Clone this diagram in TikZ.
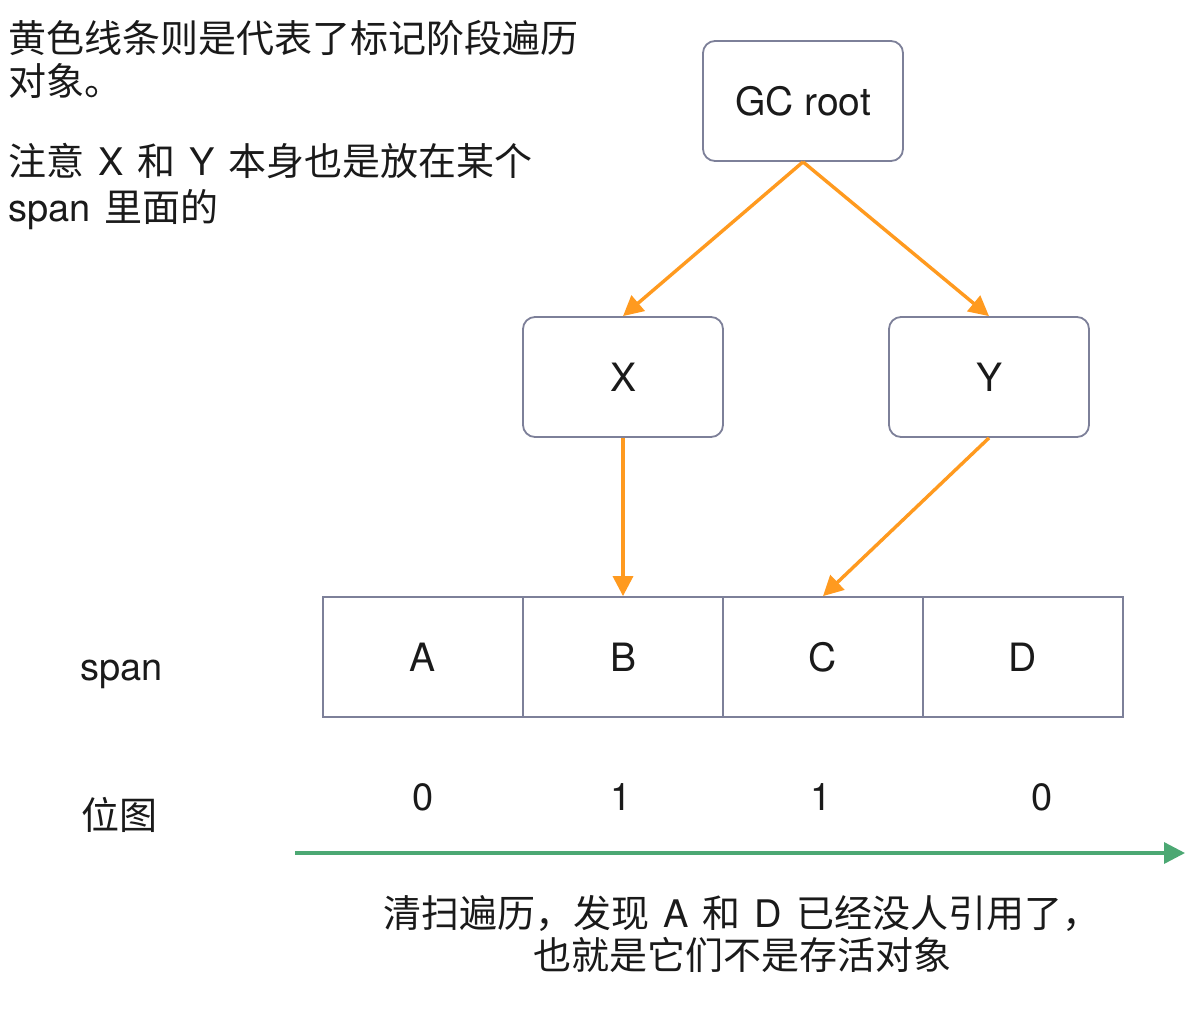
\documentclass[tikz,border=0pt]{standalone}
\usepackage{fontspec}
\setmainfont{TeX Gyre Heros}
\newfontfamily\cjk{Noto Sans CJK SC}
\newcommand\zh[1]{{\cjk #1}}
\newcommand\wsp{\hspace{14pt}}
\usetikzlibrary{arrows.meta}
\definecolor{boxline}{HTML}{7D8099}
\definecolor{ora}{HTML}{FF9A1F}
\definecolor{grn}{HTML}{4CA873}
\definecolor{txt}{HTML}{1A1A1A}
\begin{document}
\begin{tikzpicture}[x=1pt,y=-1pt,
  every node/.style={text=txt,font=\fontsize{38}{42}\selectfont},
  box/.style={draw=boxline,line width=1.8pt,rounded corners=12pt,minimum width=200pt,minimum height=120pt,inner sep=0pt,font=\fontsize{39}{42}\selectfont},
  cell/.style={draw=boxline,line width=1.8pt,minimum width=200pt,minimum height=120pt,inner sep=0pt,font=\fontsize{39}{42}\selectfont},
  lbl/.style={inner sep=0pt},
  ref/.style={draw=ora,line width=3.4pt,-{Triangle[length=20pt,width=20pt]}},
  sweep/.style={draw=grn,line width=3.4pt,-{Triangle[length=21pt,width=21pt]}}
]
\useasboundingbox (0,0) rectangle (1196,1034);
\fill[white] (0,0) rectangle (1196,1034);

% notes (base anchor = last line)
\node[lbl,anchor=base west,align=left,font=\fontsize{38}{43}\selectfont] (note1) at (8,95)
  {\zh{黄色线条则是代表了标记阶段遍历}\\\zh{对象。}};
\node[lbl,anchor=base west,align=left,font=\fontsize{38}{46}\selectfont] (note2) at (8,221)
  {\zh{注意}\wsp X\wsp\zh{和}\wsp Y\wsp\zh{本身也是放在某个}\\span\wsp\zh{里面的}};

% boxes
\node[box] (root) at (803,101) {GC root};
\node[box] (X) at (623,377) {X};
\node[box] (Y) at (989,377) {Y};

% span cells
\node[cell] (A) at (423,657) {A};
\node[cell] (B) at (623,657) {B};
\node[cell] (C) at (823,657) {C};
\node[cell] (D) at (1023,657) {D};

\node[lbl,anchor=base west] (spanlbl) at (80,680) {span};
\node[lbl,anchor=base west] (bitlbl) at (81,829) {\zh{位图}};

\node[lbl] (b0) at (423,797) {0};
\node[lbl] (b1) at (621,797) {1};
\node[lbl] (b2) at (821,797) {1};
\node[lbl] (b3) at (1042,797) {0};

% arrows
\draw[ref] (root.south) -- (X.north);
\draw[ref] (root.south) -- (Y.north);
\draw[ref] (X.south) -- (B.north);
\draw[ref] (Y.south) -- (C.north);

\coordinate (s0) at (295,853);
\coordinate (s1) at (1185,853);
\draw[sweep] (s0) -- (s1);

\node[lbl,align=center,anchor=base,font=\fontsize{38}{42}\selectfont] (result) at (742,969)
  {\zh{清扫遍历，发现}\wsp A\wsp\zh{和}\wsp D\wsp\zh{已经没人引用了，}\\\zh{也就是它们不是存活对象}};
\end{tikzpicture}
\end{document}
